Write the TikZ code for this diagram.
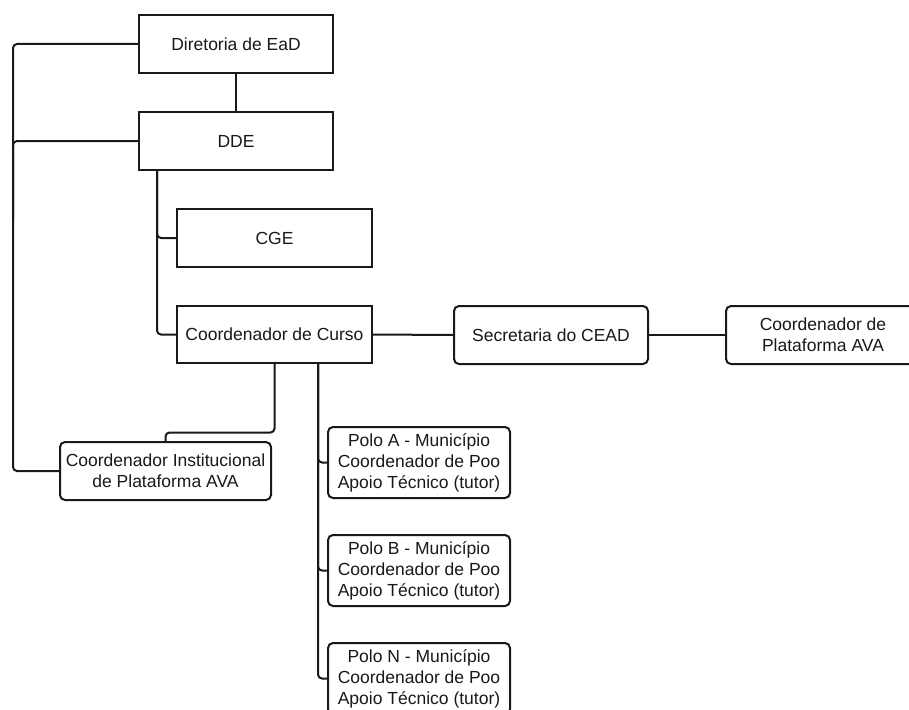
\documentclass[tikz,border=0pt]{standalone}
\usepackage{fontspec}
\setmainfont{Liberation Sans}
\begin{document}
\begin{tikzpicture}[x=1pt,y=-1pt,
  box/.style={draw=black!90, line width=2pt, inner sep=0pt, align=center,
    font=\fontsize{17.5}{21}\selectfont, text=black!90},
  sq/.style={box},
  rd/.style={box, rounded corners=5pt},
  conn/.style={draw=black!90, line width=2pt, rounded corners=4pt}]
\clip (0,0) rectangle (909,709);
\fill[white] (0,0) rectangle (909,709);
\node[sq, minimum width=194, minimum height=58] (dir) at (236,44) {Diretoria de EaD};
\node[sq, minimum width=194, minimum height=58] (dde) at (236,141) {DDE};
\node[sq, minimum width=195, minimum height=58] (cge) at (274.5,238) {CGE};
\node[sq, minimum width=195, minimum height=57] (cc) at (274.5,334.5) {Coordenador de Curso};
\node[rd, minimum width=194, minimum height=58] (sec) at (551,335) {Secretaria do CEAD};
\node[rd, minimum width=194, minimum height=58] (cpa) at (823,335) {Coordenador de\\Plataforma AVA};
\node[rd, minimum width=211, minimum height=58] (ci) at (165.5,471) {Coordenador Institucional\\de Plataforma AVA};
\node[rd, minimum width=182, minimum height=71] (pa) at (419,462.5) {Polo A - Município\\Coordenador de Poo\\Apoio Técnico (tutor)};
\node[rd, minimum width=182, minimum height=71] (pb) at (419,570.5) {Polo B - Município\\Coordenador de Poo\\Apoio Técnico (tutor)};
\node[rd, minimum width=182, minimum height=71] (pn) at (419,678.5) {Polo N - Município\\Coordenador de Poo\\Apoio Técnico (tutor)};
% coordinates on the vertical buses
\coordinate (lbus) at (13,200);
\coordinate (dbus) at ([xshift=19pt]dde.south west);
\coordinate (pbus) at ([xshift=43.5pt]cc.south);
% connectors
\draw[conn] (dir.south) -- (dde.north);
\draw[conn] (dir.west) -| (lbus) |- (ci.west);
\draw[conn] (dde.west) -| ([yshift=-20pt]lbus);
\draw[conn] (dbus) |- (cge.west);
\draw[conn] (dbus) |- (cc.west);
\draw[conn] (cc.east) -- (sec.west);
\draw[conn] (sec.east) -- (cpa.west);
\draw[conn] (cc.south) -- ++(0,68.5) -| (ci.north);
\draw[conn] (pbus) |- (pa.west);
\draw[conn] (pbus) |- (pb.west);
\draw[conn] (pbus) |- (pn.west);
\end{tikzpicture}
\end{document}
